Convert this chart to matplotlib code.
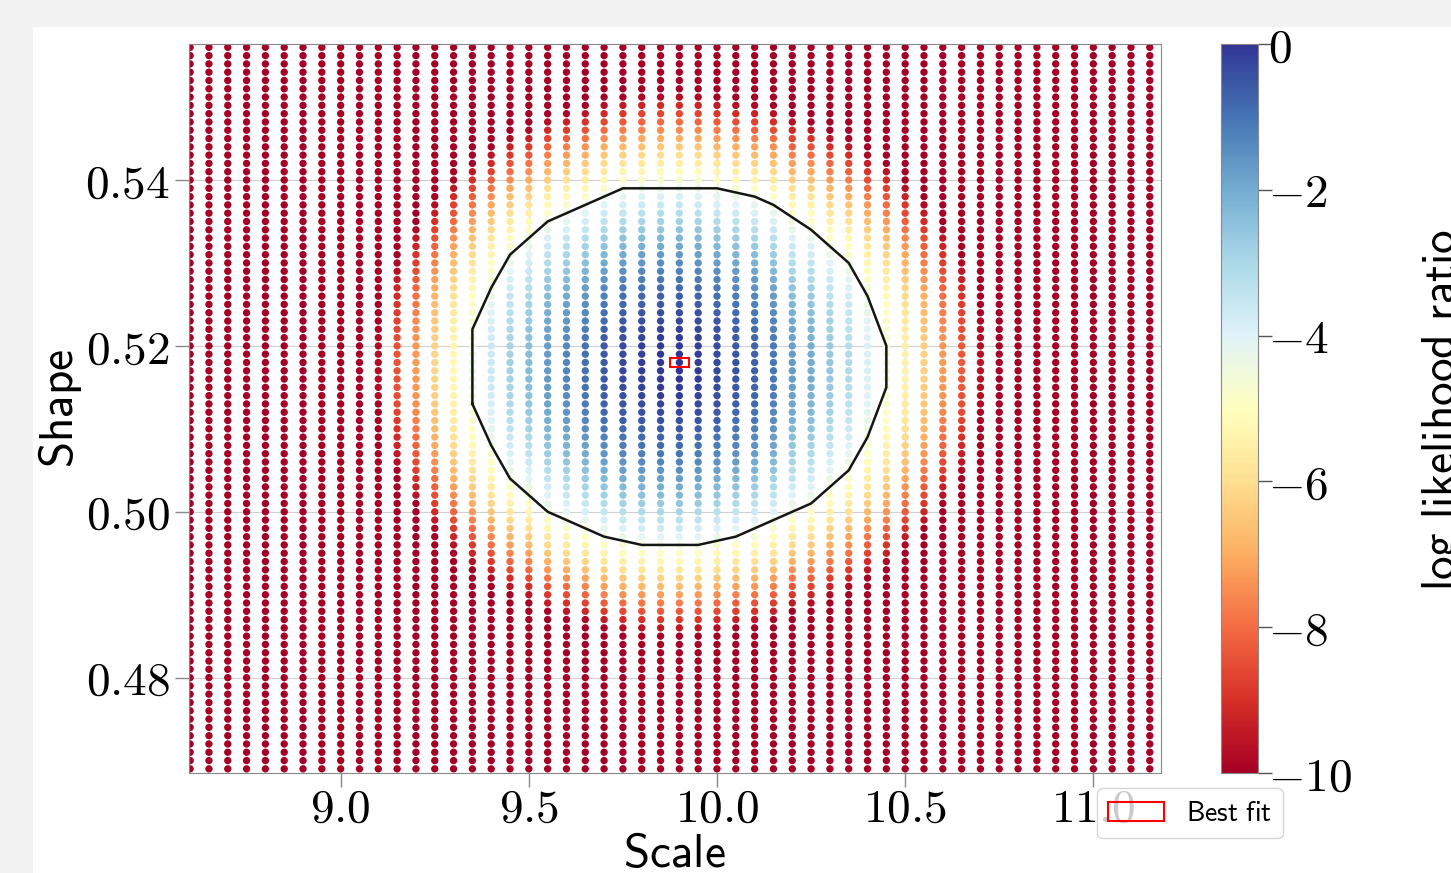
import numpy as np
import matplotlib
matplotlib.use("Agg")
import matplotlib.pyplot as plt
from matplotlib.patches import Rectangle
from matplotlib.ticker import FuncFormatter

plt.rcParams["mathtext.fontset"] = "cm"

# grid of scale values (columns) and shape values (rows)
scale_values = [8.60, 8.65, 8.70, 8.75, 8.80, 8.85, 8.90, 8.95, 9.00, 9.05,
                9.10, 9.15, 9.20, 9.25, 9.30, 9.35, 9.40, 9.45, 9.50, 9.55,
                9.60, 9.65, 9.70, 9.75, 9.80, 9.85, 9.90, 9.95, 10.00, 10.05,
                10.10, 10.15, 10.20, 10.25, 10.30, 10.35, 10.40, 10.45, 10.50, 10.55,
                10.60, 10.65, 10.70, 10.75, 10.80, 10.85, 10.90, 10.95, 11.00, 11.05,
                11.10, 11.15]
shape_values = [0.469, 0.470, 0.471, 0.472, 0.473, 0.474, 0.475, 0.476, 0.477, 0.478,
                0.479, 0.480, 0.481, 0.482, 0.483, 0.484, 0.485, 0.486, 0.487, 0.488,
                0.489, 0.490, 0.491, 0.492, 0.493, 0.494, 0.495, 0.496, 0.497, 0.498,
                0.499, 0.500, 0.501, 0.502, 0.503, 0.504, 0.505, 0.506, 0.507, 0.508,
                0.509, 0.510, 0.511, 0.512, 0.513, 0.514, 0.515, 0.516, 0.517, 0.518,
                0.519, 0.520, 0.521, 0.522, 0.523, 0.524, 0.525, 0.526, 0.527, 0.528,
                0.529, 0.530, 0.531, 0.532, 0.533, 0.534, 0.535, 0.536, 0.537, 0.538,
                0.539, 0.540, 0.541, 0.542, 0.543, 0.544, 0.545, 0.546, 0.547, 0.548,
                0.549, 0.550, 0.551, 0.552, 0.553, 0.554, 0.555, 0.556]

# log likelihood ratio profile along scale (at best-fit shape)
scale_llr = [-25.7, -23.8, -21.9, -20.1, -18.4, -16.8, -15.2, -13.7, -12.3, -11.0,
             -9.7, -8.4, -7.3, -6.2, -5.25, -4.40, -3.6, -2.85, -2.35, -1.68,
             -1.3, -0.95, -0.55, -0.3, -0.15, -0.04, 0.0, -0.1, -0.3, -0.5,
             -0.7, -1.05, -1.7, -2.0, -2.6, -3.1, -3.85, -4.52, -5.4, -6.3,
             -7.3, -8.3, -9.6, -11.0, -12.3, -13.7, -15.2, -16.8, -18.4, -20.1,
             -21.9, -23.8]
# log likelihood ratio profile along shape (at best-fit scale)
shape_llr = [-22.35, -21.43, -20.54, -19.67, -18.81, -17.98, -17.16, -16.36, -15.58, -14.82,
             -14.08, -13.36, -12.66, -11.97, -11.31, -10.66, -10.03, -9.426, -8.837, -8.267,
             -7.716, -7.184, -6.671, -6.177, -5.702, -5.246, -4.809, -4.391, -3.992, -3.612,
             -3.251, -2.909, -2.586, -2.282, -1.997, -1.731, -1.484, -1.256, -1.047, -0.857,
             -0.686, -0.534, -0.401, -0.287, -0.192, -0.116, -0.059, -0.021, -0.002, 0.0,
             -0.021, -0.058, -0.113, -0.186, -0.278, -0.389, -0.518, -0.665, -0.830, -1.014,
             -1.217, -1.438, -1.677, -1.934, -2.210, -2.505, -2.818, -3.149, -3.498, -3.866,
             -4.253, -4.658, -5.081, -5.523, -5.982, -6.461, -6.958, -7.473, -8.006, -8.558,
             -9.129, -9.718, -10.32, -10.95, -11.59, -12.26, -12.94, -13.64]

best_scale = 9.90
best_shape = 0.518
cl_level = -4.605  # 99% CL, 2 dof

X, Y = np.meshgrid(scale_values, shape_values)
Z = np.add.outer(np.array(shape_llr), np.array(scale_llr))


def convex_hull(pts):
    pts = sorted(set(pts))
    def cross(o, a, b):
        return (a[0] - o[0]) * (b[1] - o[1]) - (a[1] - o[1]) * (b[0] - o[0])
    lower, upper = [], []
    for p in pts:
        while len(lower) >= 2 and cross(lower[-2], lower[-1], p) <= 0:
            lower.pop()
        lower.append(p)
    for p in reversed(pts):
        while len(upper) >= 2 and cross(upper[-2], upper[-1], p) <= 0:
            upper.pop()
        upper.append(p)
    return lower[:-1] + upper[:-1]


inside = Z >= cl_level
# work in grid index units so the hull is scale-independent
ii, jj = np.nonzero(inside)
hull = convex_hull(list(zip(jj.tolist(), ii.tolist())))
hull.append(hull[0])
hx = [scale_values[j] for j, i in hull]
hy = [shape_values[i] for j, i in hull]

W, H = 1451, 873
fig = plt.figure(figsize=(W / 100, H / 100), dpi=100)
fig.patch.set_facecolor("#f2f2f2")
fig.add_artist(Rectangle((33 / W, 0), 1, (H - 27) / H, transform=fig.transFigure,
                         facecolor="white", edgecolor="none", zorder=-10))

ax = fig.add_axes([189 / W, 1 - 773 / H, (1160.7 - 189) / W, (773 - 44) / H])
ax.set_axisbelow(True)
ax.grid(True, color="#d0d0d0", lw=0.8)

sc = ax.scatter(X.ravel(), Y.ravel(), c=Z.ravel(), cmap="RdYlBu", vmin=-10, vmax=0,
                s=28, linewidths=0)
ax.plot(hx, hy, color="#151515", lw=1.8, solid_joinstyle="round")

rect = Rectangle((best_scale - 0.025, best_shape - 0.0005), 0.05, 0.001,
                 fill=False, edgecolor="red", lw=1.5, zorder=5, label="Best fit")
ax.add_patch(rect)

ax.set_xlim(8.597, 11.179)
ax.set_ylim(0.4685, 0.5564)
ax.set_xticks([9.0, 9.5, 10.0, 10.5, 11.0])
ax.set_yticks([0.48, 0.50, 0.52, 0.54])
ax.xaxis.set_major_formatter(FuncFormatter(lambda v, p: f"${v:.1f}$"))
ax.yaxis.set_major_formatter(FuncFormatter(lambda v, p: f"${v:.2f}$"))
ax.tick_params(labelsize=34, length=10, width=1, color="#888888", pad=4)
ax.tick_params(axis="x", pad=0)
for sp in ax.spines.values():
    sp.set_color("#888888")

ax.set_xlabel(r"$\mathsf{Scale}$", fontsize=34, labelpad=0)
ax.set_ylabel(r"$\mathsf{Shape}$", fontsize=34, labelpad=1)

cax = fig.add_axes([1221 / W, 1 - 773 / H, 37 / W, (773 - 44) / H])
cbar = fig.colorbar(sc, cax=cax)
cbar.set_ticks([0, -2, -4, -6, -8, -10])
cbar.ax.yaxis.set_major_formatter(FuncFormatter(lambda v, p: f"${v:.0f}$"))
cbar.ax.tick_params(labelsize=34, length=10, width=1, color="#555555", pad=-3)
cbar.outline.set_edgecolor("#888888")
fig.text(1443 / W, 1 - 410 / H, r"$\mathsf{log\ likelihood\ ratio}$", fontsize=34,
         rotation=90, ha="center", va="center")

leg = ax.legend(handles=[rect], loc="upper left", bbox_to_anchor=(1097 / W, 1 - 788 / H),
                bbox_transform=fig.transFigure, fontsize=20, framealpha=0.8,
                edgecolor="#cccccc", borderaxespad=0)
for t in leg.get_texts():
    t.set_text(r"$\mathsf{Best\ fit}$")

fig.savefig("out.png", dpi=100, facecolor=fig.get_facecolor())
